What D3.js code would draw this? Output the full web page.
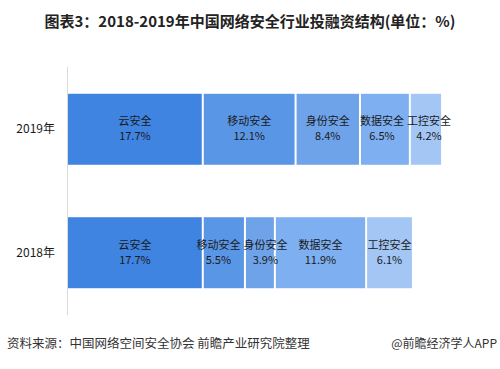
<!DOCTYPE html>
<html>
<head>
<meta charset="utf-8">
<script src="https://cdn.jsdelivr.net/npm/d3@7"></script>
<style>
  body { margin: 0; background: #fff; }
  text { font-family: "Noto Sans CJK SC", "Noto Sans", sans-serif; }
</style>
</head>
<body>
<script>
var width = 500;
var height = 369;

var years = ["2019年", "2018年"];
var categories = ["云安全", "移动安全", "身份安全", "数据安全", "工控安全"];
var values2019 = [17.7, 12.1, 8.4, 6.5, 4.2];
var values2018 = [17.7, 5.5, 3.9, 11.9, 6.1];
var colors = ["#3f84e0", "#5a96e6", "#6ea3ea", "#7eaff0", "#a3c6f5"];

var svg = d3.select("body")
  .append("svg")
  .attr("width", width)
  .attr("height", height);

svg.append("text")
  .attr("x", 250)
  .attr("y", 27)
  .attr("text-anchor", "middle")
  .attr("font-size", 15)
  .attr("font-weight", "bold")
  .attr("fill", "#222")
  .text("图表3：2018-2019年中国网络安全行业投融资结构(单位：%)");

var yScale = d3.scaleBand()
  .domain(years)
  .range([67, 315])
  .paddingInner(0.425)
  .paddingOuter(0.217);

var xScale = d3.scaleLinear()
  .domain([0, 50])
  .range([67, 450.5]);

var nameSize = 11;

// stack each year's segments
var rows = [values2019, values2018].map(function(vals, i) {
  var acc = 0;
  var row = vals.map(function(v, j) {
    var seg = {year: years[i], cat: categories[j], value: v, x0: acc, x1: acc + v, color: colors[j]};
    seg.lx = xScale(acc + v / 2);
    seg.w = categories[j].length * nameSize;
    acc += v;
    return seg;
  });
  // push apart labels that would collide
  for (var it = 0; it < 20; it++) {
    for (var k = 1; k < row.length; k++) {
      var a = row[k - 1], b = row[k];
      var need = (a.w + b.w) / 2 + 3 - (b.lx - a.lx);
      if (need > 0) { a.lx -= need / 2; b.lx += need / 2; }
    }
  }
  return row;
});
var segs = rows[0].concat(rows[1]);

svg.selectAll("rect.seg")
  .data(segs)
  .enter()
  .append("rect")
    .attr("class", "seg")
    .attr("x", function(d) { return xScale(d.x0) + (d.x0 > 0 ? 1 : 0); })
    .attr("y", function(d) { return yScale(d.year); })
    .attr("width", function(d) { return xScale(d.x1) - xScale(d.x0) - (d.x0 > 0 ? 2 : 1); })
    .attr("height", yScale.bandwidth())
    .attr("fill", function(d) { return d.color; });

var labels = svg.selectAll("g.lab")
  .data(segs)
  .enter()
  .append("g")
    .attr("transform", function(d) {
      return "translate(" + d.lx + "," + (yScale(d.year) + yScale.bandwidth() / 2) + ")";
    });

labels.append("text")
  .attr("y", -4)
  .attr("text-anchor", "middle")
  .attr("font-size", nameSize)
  .attr("fill", "#1a1a1a")
  .text(function(d) { return d.cat; });

labels.append("text")
  .attr("y", 11)
  .attr("text-anchor", "middle")
  .attr("font-size", 11)
  .attr("fill", "#1a1a1a")
  .text(function(d) { return d.value.toFixed(1) + "%"; });

// y axis: plain line with year labels
svg.append("line")
  .attr("x1", 67.5).attr("x2", 67.5)
  .attr("y1", 67).attr("y2", 315)
  .attr("stroke", "#d9d9d9");

svg.selectAll("text.year")
  .data(years)
  .enter()
  .append("text")
    .attr("class", "year")
    .attr("x", 55)
    .attr("y", function(d) { return yScale(d) + yScale.bandwidth() / 2 + 4; })
    .attr("text-anchor", "end")
    .attr("font-size", 12)
    .attr("fill", "#1a1a1a")
    .text(function(d) { return d; });

svg.append("text")
  .attr("x", 7)
  .attr("y", 348)
  .attr("font-size", 12.5)
  .attr("fill", "#333")
  .text("资料来源：中国网络空间安全协会 前瞻产业研究院整理");

svg.append("text")
  .attr("x", 497)
  .attr("y", 348)
  .attr("text-anchor", "end")
  .attr("font-size", 12)
  .attr("fill", "#333")
  .text("@前瞻经济学人APP");
</script>
</body>
</html>
